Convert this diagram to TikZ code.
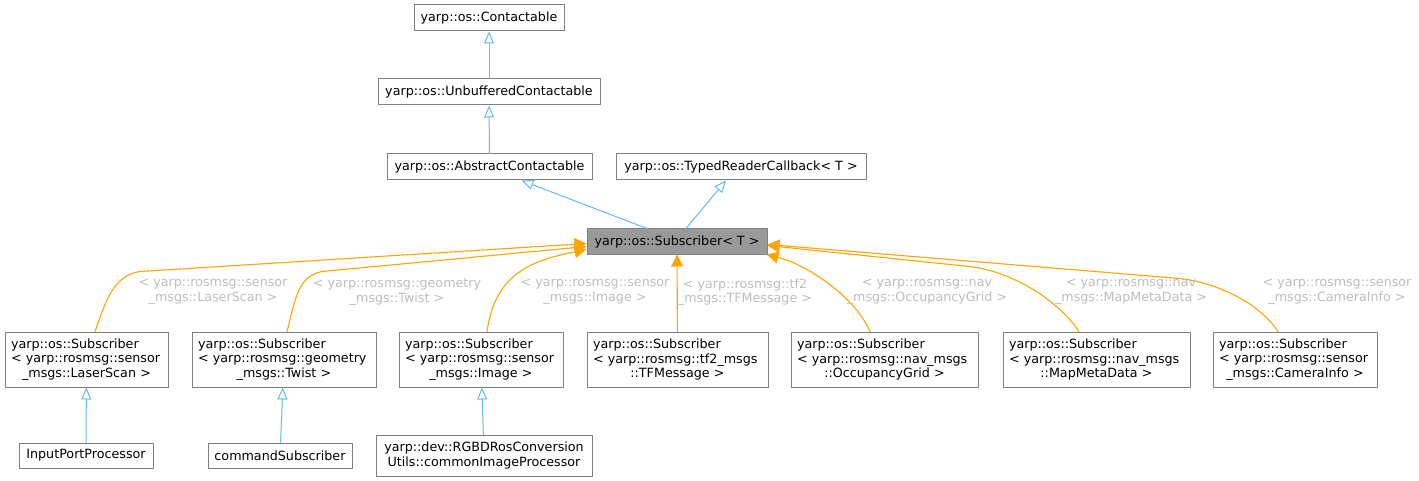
\documentclass[tikz,border=0pt]{standalone}
\usepackage{fontspec}
\setmainfont{DejaVu Sans}
\usetikzlibrary{arrows.meta}
\definecolor{boxline}{HTML}{808080}
\definecolor{basefill}{HTML}{999999}
\definecolor{inherit}{HTML}{63B8FF}
\definecolor{tmplarg}{HTML}{FFA500}
\definecolor{lblgray}{HTML}{BEBEBE}
\newcommand{\gfont}{\fontsize{12.7}{14.6}\selectfont}
\newcommand{\midln}[1]{\makebox[\hsize][c]{#1}}
\tikzset{
  cls/.style={draw=boxline, fill=white, line width=1pt, font=\gfont,
    inner xsep=6pt, inner ysep=2pt, minimum height=26pt},
  cls3/.style={cls, align=left, minimum height=55pt},
  base/.style={cls, fill=basefill, minimum height=25pt},
  inh/.style={draw=inherit, line width=1pt, -{Triangle[open, length=12pt, width=10pt]}},
  tmpl/.style={draw=tmplarg, line width=1.1pt, -{Triangle[length=12pt, width=12pt]}},
  elab/.style={text=lblgray, font=\gfont, align=center, inner sep=0pt}
}

\begin{document}
\begin{tikzpicture}[x=1pt, y=-1pt, line cap=round, line join=round]
  \useasboundingbox[fill=white] (0,0) rectangle (1419,481);
  % base classes
  \node[cls, minimum width=150pt] (con) at (489,18) {yarp::os::Contactable};
  \node[cls, minimum width=222pt] (unb) at (489,92) {yarp::os::UnbufferedContactable};
  \node[cls, minimum width=205pt] (abs) at (489.5,167) {yarp::os::AbstractContactable};
  \node[cls, minimum width=250pt] (typ) at (741,167) {yarp::os::TypedReaderCallback< T >};
  \node[base, minimum width=180pt] (sub) at (677,241.5) {yarp::os::Subscriber< T >};
  % template instances
  \node[cls3, text width=151pt] (ls) at (86.5,359.5)
    {yarp::os::Subscriber\\< yarp::rosmsg::sensor\\\midln{\_msgs::LaserScan >}};
  \node[cls3, text width=172pt] (tw) at (284,359.5)
    {yarp::os::Subscriber\\< yarp::rosmsg::geometry\\\midln{\_msgs::Twist >}};
  \node[cls3, text width=152pt] (img) at (481,359.5)
    {yarp::os::Subscriber\\< yarp::rosmsg::sensor\\\midln{\_msgs::Image >}};
  \node[cls3, text width=169pt] (tf) at (677.5,359.5)
    {yarp::os::Subscriber\\< yarp::rosmsg::tf2\_msgs\\\midln{::TFMessage >}};
  \node[cls3, text width=175pt] (occ) at (884.5,359.5)
    {yarp::os::Subscriber\\< yarp::rosmsg::nav\_msgs\\\midln{::OccupancyGrid >}};
  \node[cls3, text width=175pt] (map) at (1096.5,359.5)
    {yarp::os::Subscriber\\< yarp::rosmsg::nav\_msgs\\\midln{::MapMetaData >}};
  \node[cls3, text width=152pt] (cam) at (1295,359.5)
    {yarp::os::Subscriber\\< yarp::rosmsg::sensor\\\midln{\_msgs::CameraInfo >}};
  % derived classes
  \node[cls, minimum width=134pt, minimum height=25pt] (ipp) at (86,455.5) {InputPortProcessor};
  \node[cls, minimum width=144pt, minimum height=25pt] (cmd) at (280,455.5) {commandSubscriber};
  \node[cls, align=center, minimum width=216pt, minimum height=41pt] (rgbd) at (484,455.5)
    {yarp::dev::RGBDRosConversion\\Utils::commonImageProcessor};

  % inheritance
  \draw[inh] (unb) -- (con);
  \draw[inh] (abs) -- (unb);
  \draw[inh] ([xshift=-30pt]sub.north) -- ([xshift=32pt]abs.south);
  \draw[inh] ([xshift=9pt]sub.north) -- ([xshift=-15pt]typ.south);
  \draw[inh] (ipp) -- (ls);
  \draw[inh] (cmd) -- (tw);
  \draw[inh] (rgbd) -- (img);

  % template arguments
  \draw[tmpl] ([xshift=8.5pt]ls.north) .. controls +(10,-27) and +(-28,4) .. ++(45,-60)
    -- ([yshift=-2pt]sub.west);
  \draw[tmpl] ([xshift=3pt]tw.north) .. controls +(8,-30) and +(-25,5) .. ++(35,-60)
    -- ([yshift=-5pt]sub.west);
  \draw[tmpl] ([xshift=6pt]img.north) .. controls +(8,-55) and +(-60,12) .. ([yshift=-8pt]sub.west);
  \draw[tmpl] (tf) -- (sub);
  \draw[tmpl] ([xshift=-14.5pt]occ.north) .. controls +(-15,-35) and +(40,10) .. ([xshift=-1pt]sub.south east);
  \draw[tmpl] ([xshift=-17.5pt]map.north) .. controls +(-20,-30) and +(45,5) .. ++(-110,-65)
    -- ([yshift=-4pt]sub.east);
  \draw[tmpl] ([xshift=-17pt]cam.north) .. controls +(-20,-30) and +(35,4) .. ++(-98,-53)
    -- ([yshift=-3pt]sub.east);

  % edge labels
  \node[elab] (lls) at (213,292) {< yarp::rosmsg::sensor\\\_msgs::LaserScan >};
  \node[elab] (ltw) at (397,292) {< yarp::rosmsg::geometry\\\_msgs::Twist >};
  \node[elab] (limg) at (595,292) {< yarp::rosmsg::sensor\\\_msgs::Image >};
  \node[elab] (ltf) at (745,292) {< yarp::rosmsg::tf2\\\_msgs::TFMessage >};
  \node[elab] (locc) at (927,292) {< yarp::rosmsg::nav\\\_msgs::OccupancyGrid >};
  \node[elab] (lmap) at (1131,292) {< yarp::rosmsg::nav\\\_msgs::MapMetaData >};
  \node[elab] (lcam) at (1337,292) {< yarp::rosmsg::sensor\\\_msgs::CameraInfo >};
\end{tikzpicture}
\end{document}
